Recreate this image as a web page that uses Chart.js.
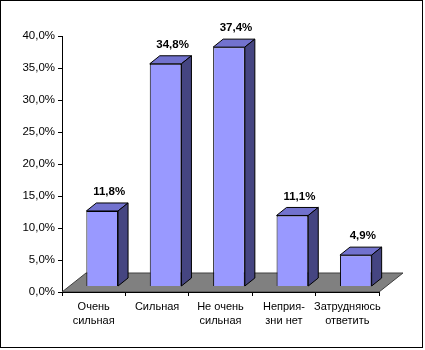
<!DOCTYPE html>
<html lang="ru">
<head>
    <meta charset="UTF-8">
    <title>Распределение ответов</title>
    <script src="https://cdn.jsdelivr.net/npm/chart.js"></script>
    <style>
        body {
            margin: 0;
            background-color: #fff;
        }
        canvas {
            display: block;
        }
    </style>
</head>
<body>
    <canvas id="answersChart" width="425" height="350"></canvas>

    <script>
        // answer categories (two-line labels as arrays)
        var categories = [
            ['Очень', 'сильная'],
            'Сильная',
            ['Не очень', 'сильная'],
            ['Неприя-', 'зни нет'],
            ['Затрудняюсь', 'ответить']
        ];
        var shares = [11.8, 34.8, 37.4, 11.1, 4.9];   // percent
        var yTicks = [0, 5, 10, 15, 20, 25, 30, 35, 40];

        var FONT = "'Liberation Sans', Arial, sans-serif";

        // pseudo-3d: bar offset into the floor, bar depth and floor depth
        var SHIFT_X = 8.5, SHIFT_Y = -5.5;
        var DEPTH_X = 10, DEPTH_Y = -8;
        var FLOOR_X = 24, FLOOR_Y = -19;

        function fmt(v) {
            return v.toFixed(1).replace('.', ',') + '%';
        }

        // little dither textures for the side and top faces
        function makePattern(ctx, size, cells) {
            var c = document.createElement('canvas');
            c.width = size; c.height = size;
            var pc = c.getContext('2d');
            for (var i = 0; i < cells.length; i++) {
                pc.fillStyle = cells[i];
                pc.fillRect(i % size, Math.floor(i / size), 1, 1);
            }
            return ctx.createPattern(c, 'repeat');
        }

        var bars3d = {
            id: 'bars3d',
            beforeDraw: function(chart) {
                var ctx = chart.ctx;
                ctx.save();
                ctx.fillStyle = '#fff';
                ctx.fillRect(0, 0, chart.width, chart.height);
                ctx.strokeStyle = '#000';
                ctx.lineWidth = 1;
                ctx.strokeRect(0.5, 0.5, 422, 347);
                ctx.restore();
            },
            beforeDatasetsDraw: function(chart) {
                var ctx = chart.ctx, a = chart.chartArea;
                var b = a.bottom;
                // grey floor
                ctx.save();
                ctx.beginPath();
                ctx.moveTo(a.left, b);
                ctx.lineTo(a.right, b);
                ctx.lineTo(a.right + FLOOR_X, b + FLOOR_Y);
                ctx.lineTo(a.left + FLOOR_X, b + FLOOR_Y);
                ctx.closePath();
                ctx.fillStyle = '#808080';
                ctx.fill();
                ctx.strokeStyle = '#404040';
                ctx.lineWidth = 1;
                ctx.stroke();
                ctx.beginPath();
                ctx.moveTo(a.left, b + 0.5);
                ctx.lineTo(a.right, b + 0.5);
                ctx.strokeStyle = '#000';
                ctx.stroke();
                ctx.restore();

                // bars stand a little behind the axis line
                ctx.save();
                ctx.translate(SHIFT_X, SHIFT_Y);
            },
            afterDatasetsDraw: function(chart) {
                var ctx = chart.ctx;
                var sidePat = makePattern(ctx, 2, ['#20205e', '#6a6aa4', '#6a6aa4', '#20205e']);
                var topPat = makePattern(ctx, 2, ['#b4b4ec', '#5c5cc4', '#5c5cc4', '#5c5cc4']);
                var meta = chart.getDatasetMeta(0);

                meta.data.forEach(function(bar) {
                    var p = bar.getProps(['x', 'y', 'base', 'width'], true);
                    var l = p.x - p.width / 2, r = p.x + p.width / 2;
                    ctx.lineWidth = 1;
                    ctx.strokeStyle = '#000';
                    ctx.lineJoin = 'round';

                    // top face
                    ctx.beginPath();
                    ctx.moveTo(l, p.y);
                    ctx.lineTo(l + DEPTH_X, p.y + DEPTH_Y);
                    ctx.lineTo(r + DEPTH_X, p.y + DEPTH_Y);
                    ctx.lineTo(r, p.y);
                    ctx.closePath();
                    ctx.fillStyle = topPat;
                    ctx.fill();
                    ctx.stroke();

                    // side face
                    ctx.beginPath();
                    ctx.moveTo(r, p.y);
                    ctx.lineTo(r + DEPTH_X, p.y + DEPTH_Y);
                    ctx.lineTo(r + DEPTH_X, p.base + DEPTH_Y);
                    ctx.lineTo(r, p.base);
                    ctx.closePath();
                    ctx.fillStyle = sidePat;
                    ctx.fill();
                    ctx.stroke();
                });
                ctx.restore();

                // value labels over each bar
                ctx.save();
                ctx.font = 'bold 11.5px ' + FONT;
                ctx.fillStyle = '#000';
                ctx.textAlign = 'center';
                ctx.textBaseline = 'middle';
                meta.data.forEach(function(bar, i) {
                    var p = bar.getProps(['x', 'y'], true);
                    ctx.fillText(fmt(shares[i]), p.x + SHIFT_X + DEPTH_X / 2 + 2, p.y + SHIFT_Y - 19);
                });
                ctx.restore();
            }
        };

        var ctx = document.getElementById('answersChart').getContext('2d');
        var chart = new Chart(ctx, {
            type: 'bar',
            data: {
                labels: categories,
                datasets: [{
                    data: shares,
                    backgroundColor: '#9999ff',
                    borderColor: '#000',
                    borderWidth: 1,
                    categoryPercentage: 1,
                    barPercentage: 0.5
                }]
            },
            options: {
                responsive: false,
                animation: false,
                layout: {
                    padding: { top: 36, right: 46, left: 0, bottom: 0 }
                },
                plugins: {
                    legend: { display: false },
                    tooltip: { enabled: false }
                },
                scales: {
                    x: {
                        grid: {
                            offset: true,
                            drawOnChartArea: false,
                            color: '#000',
                            tickLength: 4
                        },
                        border: { display: false },
                        ticks: {
                            color: '#000',
                            padding: 4,
                            maxRotation: 0,
                            autoSkip: false,
                            font: { family: FONT, size: 11, lineHeight: 1.3 }
                        },
                        afterFit: function(scale) { scale.height = 58; }
                    },
                    y: {
                        min: 0,
                        max: 40,
                        afterBuildTicks: function(scale) {
                            scale.ticks = yTicks.map(function(v) { return { value: v }; });
                        },
                        grid: {
                            drawOnChartArea: false,
                            color: '#000',
                            tickLength: 4
                        },
                        border: { display: true, color: '#000', width: 1 },
                        ticks: {
                            color: '#000',
                            padding: 3,
                            font: { family: FONT, size: 11.5 },
                            callback: function(v) { return fmt(v); }
                        },
                        afterFit: function(scale) { scale.width = 62; }
                    }
                }
            },
            plugins: [bars3d]
        });
    </script>
</body>
</html>
